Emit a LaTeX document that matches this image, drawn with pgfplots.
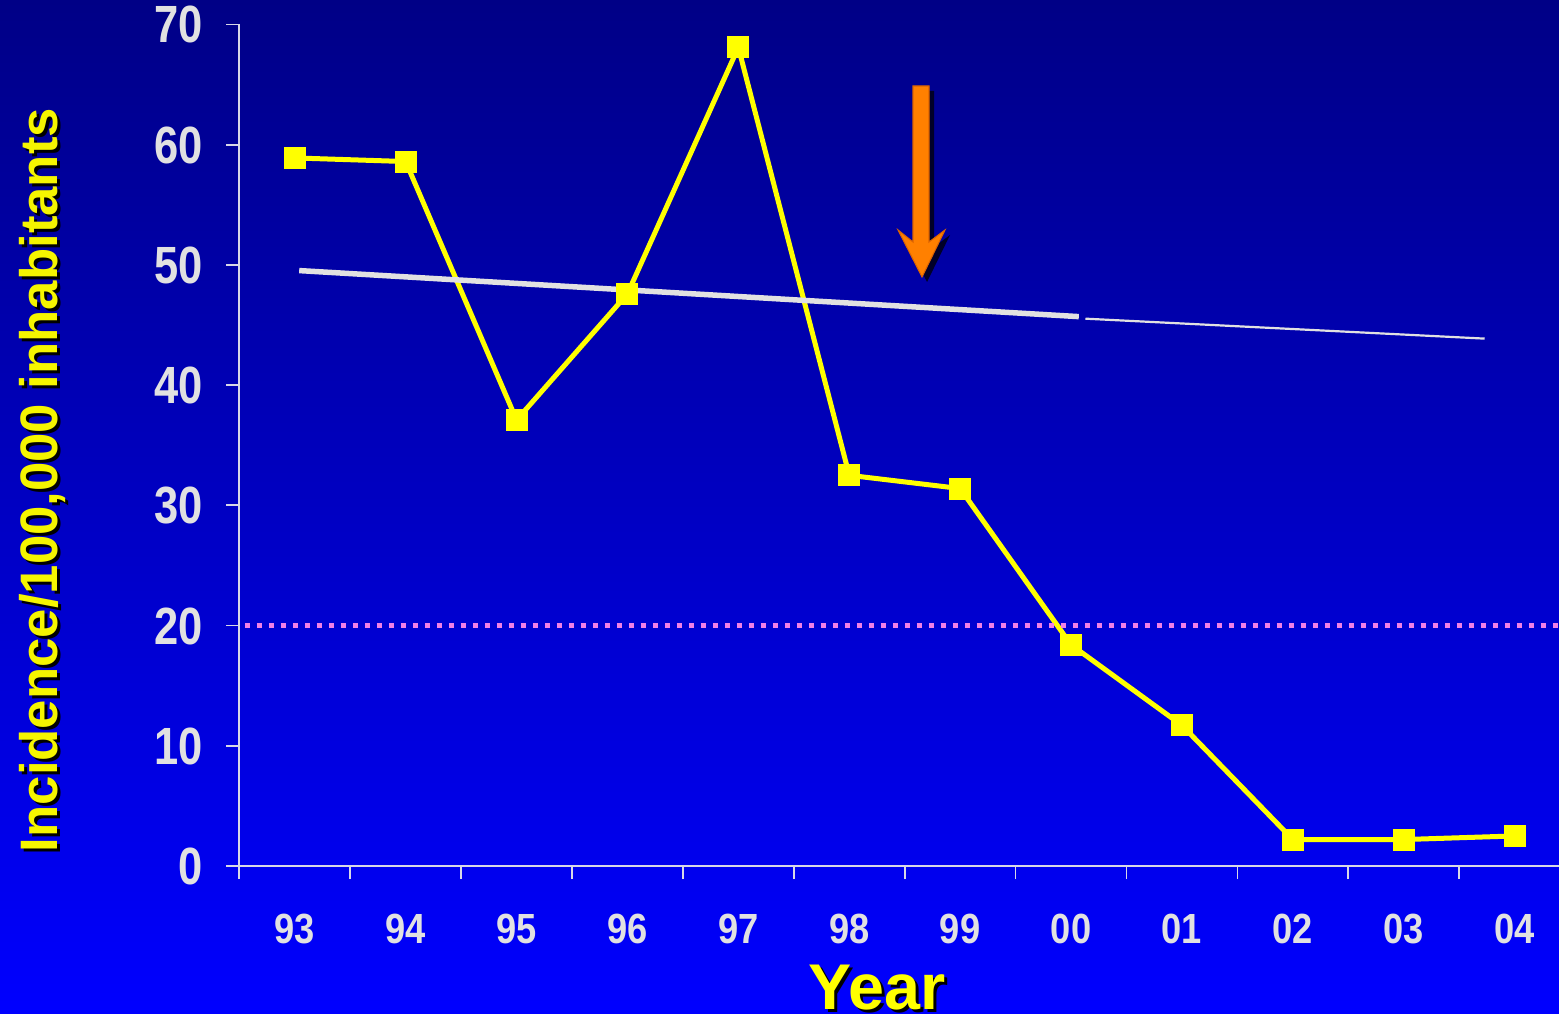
\documentclass[border=0pt]{standalone}
\usepackage{fontspec}
\setmainfont{Liberation Sans}
\newfontfamily\xtickfont{Liberation Sans}[FakeStretch=0.86]
\newfontfamily\ytickfont{Liberation Sans}[FakeStretch=0.83]
\usepackage{pgfplots}
\pgfplotsset{compat=1.18}
\definecolor{bgtop}{RGB}{0,0,134}
\definecolor{bgmid}{RGB}{0,0,200}
\definecolor{bgbot}{RGB}{0,0,255}
\definecolor{axisgray}{RGB}{215,215,230}
\definecolor{ticktext}{RGB}{225,225,225}
\definecolor{pinkdot}{RGB}{240,128,230}
\definecolor{trendwhite}{RGB}{225,225,225}
\definecolor{arroworange}{RGB}{255,128,0}
\definecolor{arrowedge}{RGB}{220,100,0}
\definecolor{shadowdark}{RGB}{0,0,40}
\definecolor{pureyellow}{RGB}{255,255,0}
\definecolor{labelyellow}{RGB}{245,245,0}
\begin{document}
\begin{tikzpicture}
\useasboundingbox (0,0) rectangle (15.59cm,10.13cm);
\shade[top color=bgtop, middle color=bgmid, bottom color=bgbot] (0,0) rectangle (15.59cm,10.13cm);
\begin{axis}[
  at={(2.393cm,1.47cm)}, anchor=south west,
  scale only axis, width=13.197cm, height=8.415cm,
  xmin=-0.5, xmax=11.4, ymin=0, ymax=70,
  axis x line*=bottom, axis y line*=left,
  axis line style={draw=axisgray, line width=0.5pt},
  tick style={draw=axisgray, line width=0.5pt},
  tick align=outside, major tick length=1.3mm,
  xtick={-0.5,0.5,1.5,2.5,3.5,4.5,5.5,6.5,7.5,8.5,9.5,10.5},
  xticklabels={},
  extra x ticks={0,1,2,3,4,5,6,7,8,9,10,11},
  extra x tick labels={93,94,95,96,97,98,99,00,01,02,03,04},
  extra x tick style={major tick length=0pt},
  xticklabel style={font=\xtickfont\bfseries\fontsize{12}{14}\selectfont, text=ticktext, anchor=base, inner sep=0pt, yshift=-7.7mm},
  ytick={0,10,20,30,40,50,60,70},
  yticklabels={0,10,20,30,40,50,60,70},
  yticklabel style={font=\ytickfont\bfseries\fontsize{14.9}{17}\selectfont, text=ticktext, anchor=base east, inner sep=0pt, xshift=-2.3mm, yshift=-1.85mm},
  clip=false,
]
\addplot[pureyellow, line width=0.5mm, mark=none] coordinates {
  (0,58.9) (1,58.6) (2,37.1) (3,47.6) (4,68.1) (5,32.5)
  (6,31.4) (7,18.4) (8,11.7) (9,2.2) (10,2.2) (11,2.5)};
\addplot[pinkdot, line width=0.55mm, line cap=butt, dash pattern=on 0.55mm off 0.65mm] coordinates {(-0.45,20) (11.4,20)};
\addplot[trendwhite, line width=0.55mm] coordinates {(0.04,49.53) (7.07,45.70)};
\addplot[trendwhite, line width=0.22mm] coordinates {(7.13,45.53) (10.73,43.87)};
\addplot[only marks, mark=square*, mark size=1.05mm, mark options={fill=pureyellow, draw=pureyellow, line width=0pt}] coordinates {
  (0,58.9) (1,58.6) (2,37.1) (3,47.6) (4,68.1) (5,32.5)
  (6,31.4) (7,18.4) (8,11.7) (9,2.2) (10,2.2) (11,2.5)};
\end{axis}
\begin{scope}[yshift=10.13cm, x=0.1mm, y=-0.1mm]
  \fill[shadowdark, shift={(5,5)}] (913,86) -- (929,86) -- (929,242) -- (945,230) -- (922,277) -- (898,230) -- (913,242) -- cycle;
  \filldraw[fill=arroworange, draw=arrowedge, line width=0.3pt] (913,86) -- (929,86) -- (929,242) -- (945,230) -- (922,277) -- (898,230) -- (913,242) -- cycle;
  \node[rotate=90, anchor=base, inner sep=0pt, font=\bfseries\fontsize{15}{18}\selectfont, text=black] at (60,483) {Incidence/100,000 inhabitants};
  \node[rotate=90, anchor=base, inner sep=0pt, font=\bfseries\fontsize{15}{18}\selectfont, text=labelyellow] at (57,480) {Incidence/100,000 inhabitants};
  \node[anchor=base, inner sep=0pt, font=\bfseries\fontsize{18.4}{22}\selectfont, text=black] at (880,1012) {Year};
  \node[anchor=base, inner sep=0pt, font=\bfseries\fontsize{18.4}{22}\selectfont, text=pureyellow] at (877,1009) {Year};
\end{scope}
\end{tikzpicture}
\end{document}
